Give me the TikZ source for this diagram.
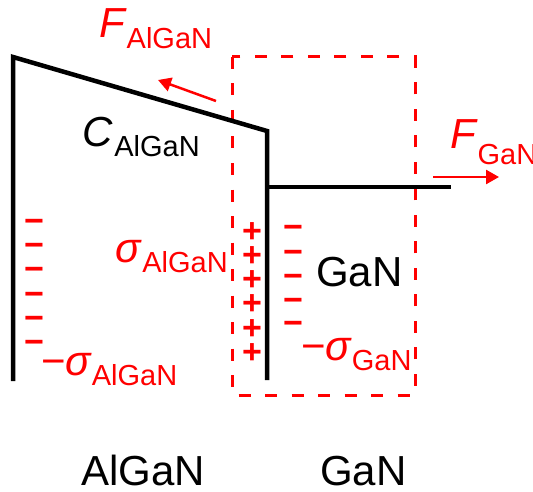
\documentclass[tikz,border=0pt]{standalone}
\usepackage{fontspec}
\setmainfont{Liberation Sans}
\usetikzlibrary{arrows.meta}
\definecolor{redc}{RGB}{255,0,0}
\newcommand{\bigfnt}{\fontsize{42bp}{42bp}\selectfont}
\newcommand{\subfnt}{\fontsize{29bp}{29bp}\selectfont}
\newcommand{\sgnfnt}{\fontsize{34bp}{34bp}\selectfont\bfseries}
\begin{document}
\begin{tikzpicture}[x=1bp,y=-1bp,
  band/.style={line width=4.5bp, draw=black, line join=miter},
  regionbox/.style={draw=redc, line width=3bp, dash pattern=on 12bp off 14.5bp},
  force/.style={draw=redc, line width=2.5bp, -{Triangle[length=13bp,width=14bp]}},
  lbl/.style={anchor=base west, inner sep=0pt, outer sep=0pt, font=\bigfnt},
  rlbl/.style={lbl, text=redc},
  sgn/.style={inner sep=0pt, outer sep=0pt, font=\sgnfnt, text=redc}]
\useasboundingbox (0,0) rectangle (533,492);
% dashed region
\coordinate (boxA) at (232,57);
\coordinate (boxB) at (415,395);
\draw[regionbox] (boxA) rectangle (boxB);
% band lines
\coordinate (lbot) at (13,381);
\coordinate (ltop) at (13,57);
\coordinate (rtop) at (267,131);
\coordinate (rbot) at (267,380);
\coordinate (hstart) at (267,187);
\coordinate (hend) at (451,187);
\draw[band] (lbot) -- (ltop) -- (rtop) -- (rbot);
\draw[band] (hstart) -- (hend);
% forces
\coordinate (fa1) at (216,101);
\coordinate (fa2) at (158,80);
\draw[force] (fa1) -- (fa2);
\coordinate (fg1) at (433,177);
\coordinate (fg2) at (499,177);
\draw[force] (fg1) -- (fg2);
% labels
\node[rlbl] (FAl) at (99,38) {\itshape F\kern2bp\raisebox{-11bp}{\upshape\subfnt AlGaN}};
\node[lbl] (CAl) at (82,147) {\itshape C\kern2bp\raisebox{-10bp}{\upshape\subfnt AlGaN}};
\node[rlbl] (FGa) at (450,149) {\itshape F\kern2bp\raisebox{-16bp}{\upshape\subfnt GaN}};
\node[rlbl] (sAl) at (115,262) {\itshape σ\kern2bp\raisebox{-10bp}{\upshape\subfnt AlGaN}};
\node[rlbl] (msAl) at (41,375) {−\itshape σ\kern1bp\raisebox{-10bp}{\upshape\subfnt AlGaN}};
\node[rlbl] (msGa) at (301,360) {−\itshape σ\kern1bp\raisebox{-10bp}{\upshape\subfnt GaN}};
\node[lbl] (GaNin) at (316,286) {GaN};
\node[lbl] (AlGaNbot) at (81,485) {AlGaN};
\node[lbl] (GaNbot) at (320,485) {GaN};
% charges
\foreach \i/\y in {1/221,2/245,3/269,4/294,5/318,6/342}
  \node[sgn] (lm\i) at (34,\y+5) {−};
\foreach \i/\y in {1/228,2/252,3/276,4/300,5/325,6/349}
  \node[sgn] (pp\i) at (252,\y+5) {+};
\foreach \i/\y in {1/227,2/252,3/276,4/300,5/323}
  \node[sgn] (gm\i) at (293,\y+5) {−};
\end{tikzpicture}
\end{document}
